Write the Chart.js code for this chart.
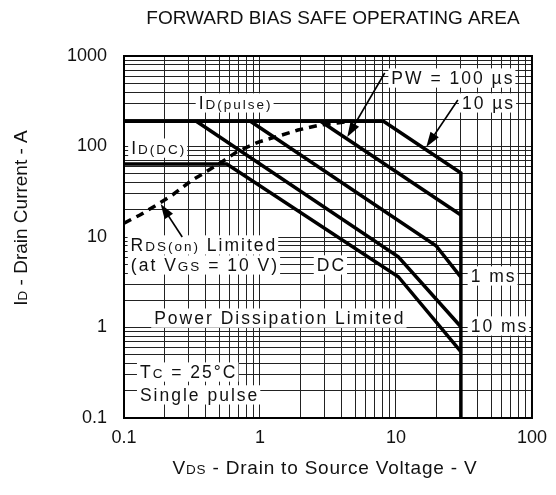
<!DOCTYPE html>
<html>
<head>
<meta charset="utf-8">
<script src="https://cdn.jsdelivr.net/npm/chart.js@4.4.1/dist/chart.umd.min.js"></script>
<style>
body { margin: 0; background: #fff; }
</style>
</head>
<body>
<canvas id="soa" width="556" height="495"></canvas>
<script>
// values (V, A)
const vds10us = [0.1, 8.1, 30, 30];
const id10us = [190, 190, 51, 0.1];
const vds100us = [2.79, 30];
const id100us = [190, 17.5];
const vds1ms = [0.85, 19.7, 30];
const id1ms = [190, 8.0, 3.6];
const vds10ms = [0.34, 10.4, 30];
const id10ms = [190, 6.05, 1.02];
const vdsDC = [0.1, 0.57, 10.4, 30];
const idDC = [64, 64, 3.64, 0.54];
const vdsRds = [0.1, 0.131, 0.182, 0.227, 0.317, 0.4, 0.524, 0.673, 0.973, 1.29, 1.9, 2.79, 3.7, 4.7];
const idRds = [14.2, 17.5, 23.6, 29.1, 42.6, 52.3, 67.5, 86.9, 112, 127, 152, 173, 182, 190];

const xTickLabels = ['0.1', '1', '10', '100'];
const yTickLabels = ['0.1', '1', '10', '100', '1000'];

const FONT = 'Arial, "Liberation Sans", sans-serif';
const INK = '#111';

function pts(xs, ys) {
	return xs.map((x, i) => ({ x: x, y: ys[i] }));
}

function curve(xs, ys, dash) {
	return {
		data: pts(xs, ys),
		borderColor: '#000',
		borderWidth: 3.5,
		borderDash: dash || [],
		borderJoinStyle: 'miter',
		pointRadius: 0,
		tension: 0,
		fill: false
	};
}

// 1..9 per decade, so every log grid line is drawn
function logTicks(labels) {
	return scale => {
		const dec = labels.map(Number);
		const list = [];
		for (let i = 0; i < dec.length - 1; i++) {
			for (let k = 1; k < 10; k++) list.push({ value: +(dec[i] * k).toPrecision(3) });
		}
		list.push({ value: dec[dec.length - 1] });
		scale.ticks = list;
	};
}

function tickText(labels) {
	return value => {
		const s = labels.find(l => Math.abs(Number(l) - value) < value * 1e-6);
		return s === undefined ? '' : s;
	};
}

// in-plot notes: [text, size] pieces, placed in data units
const notes = [
	{ parts: [['I', 17.5], ['D(pulse)', 13.5]], x: 0.662, y: 303, align: 'center' },
	{ parts: [['I', 17.5], ['D(DC)', 13.5]], x: 0.18, y: 96, align: 'center' },
	{ parts: [['PW = 100 µs', 17.5]], x: 26.2, y: 571, align: 'center' },
	{ parts: [['10 µs', 17.5]], x: 47.9, y: 303, align: 'center' },
	{ parts: [['R', 17.5], ['DS(on)', 13.5], [' Limited', 17.5]], x: 0.387, y: 8.17, align: 'center' },
	{ parts: [['(at V', 17.5], ['GS', 13.5], [' = 10 V)', 17.5]], x: 0.394, y: 4.91, align: 'center' },
	{ parts: [['DC', 17.5]], x: 3.35, y: 4.91, align: 'center' },
	{ parts: [['Power Dissipation Limited', 17.5]], x: 1.40, y: 1.27, align: 'center' },
	{ parts: [['T', 17.5], ['C', 13.5], [' = 25°C', 17.5]], x: 0.131, y: 0.322, align: 'left' },
	{ parts: [['Single pulse', 17.5]], x: 0.131, y: 0.18, align: 'left' },
	{ parts: [['1 ms', 17.5]], x: 35.4, y: 3.71, align: 'left' },
	{ parts: [['10 ms', 17.5]], x: 35.4, y: 1.04, align: 'left' }
];

const arrows = [
	{ from: [0.268, 10], to: [0.186, 23.2] },
	{ from: [8.26, 649], to: [4.38, 127] },
	{ from: [28.5, 326], to: [16.7, 98.7] }
];

function drawParts(ctx, parts, x, y, align, box, spacing) {
	ctx.letterSpacing = spacing;
	const widths = parts.map(p => {
		ctx.font = p[1] + 'px ' + FONT;
		return ctx.measureText(p[0]).width;
	});
	const total = widths.reduce((a, b) => a + b, 0);
	let start = align === 'left' ? x : x - total / 2;
	const size = parts[0][1];
	if (box) {
		ctx.fillStyle = '#fff';
		ctx.fillRect(start - 3, y - size * 0.55, total + 4, size * 1.1);
	}
	ctx.fillStyle = INK;
	ctx.textBaseline = 'alphabetic';
	ctx.textAlign = 'left';
	const base = y + size * 0.36;
	parts.forEach((p, i) => {
		ctx.font = p[1] + 'px ' + FONT;
		ctx.fillText(p[0], start, base);
		start += widths[i];
	});
	ctx.letterSpacing = '0px';
}

const overlay = {
	id: 'overlay',
	beforeDatasetsDraw(chart) {
		const ctx = chart.ctx;
		const sx = chart.scales.x, sy = chart.scales.y;
		ctx.save();
		notes.forEach(n => {
			drawParts(ctx, n.parts, sx.getPixelForValue(n.x), sy.getPixelForValue(n.y), n.align, true, '2px');
		});
		ctx.restore();
	},
	afterDatasetsDraw(chart) {
		const ctx = chart.ctx;
		const sx = chart.scales.x, sy = chart.scales.y;
		const a = chart.chartArea;
		ctx.save();
		ctx.strokeStyle = '#000';
		ctx.fillStyle = '#000';
		arrows.forEach(ar => {
			const x0 = sx.getPixelForValue(ar.from[0]), y0 = sy.getPixelForValue(ar.from[1]);
			const x1 = sx.getPixelForValue(ar.to[0]), y1 = sy.getPixelForValue(ar.to[1]);
			const ang = Math.atan2(y1 - y0, x1 - x0);
			const len = 15, half = 5;
			ctx.lineWidth = 1.6;
			ctx.beginPath();
			ctx.moveTo(x0, y0);
			ctx.lineTo(x1 - Math.cos(ang) * len * 0.8, y1 - Math.sin(ang) * len * 0.8);
			ctx.stroke();
			ctx.beginPath();
			ctx.moveTo(x1, y1);
			ctx.lineTo(x1 - Math.cos(ang) * len - Math.sin(ang) * half, y1 - Math.sin(ang) * len + Math.cos(ang) * half);
			ctx.lineTo(x1 - Math.cos(ang) * len + Math.sin(ang) * half, y1 - Math.sin(ang) * len - Math.cos(ang) * half);
			ctx.closePath();
			ctx.fill();
		});
		// frame
		ctx.lineWidth = 2;
		ctx.strokeRect(a.left, a.top, a.right - a.left, a.bottom - a.top);
		ctx.restore();
	},
	afterDraw(chart) {
		const ctx = chart.ctx;
		ctx.save();
		ctx.fillStyle = INK;
		ctx.font = '19px ' + FONT;
		ctx.textAlign = 'center';
		ctx.textBaseline = 'middle';
		ctx.fillText('FORWARD BIAS SAFE OPERATING AREA', 333, 19);
		drawParts(ctx, [['V', 19], ['DS', 13.5], [' - Drain to Source Voltage - V', 19]], 325, 467, 'center', false, '0.8px');
		ctx.translate(20, 218);
		ctx.rotate(-Math.PI / 2);
		drawParts(ctx, [['I', 19], ['D', 13.5], [' - Drain Current - A', 19]], 0, 0, 'center', false, '0px');
		ctx.restore();
	}
};

const gridStyle = { color: '#222', lineWidth: 1, drawTicks: false };

new Chart(document.getElementById('soa'), {
	type: 'line',
	data: {
		datasets: [
			curve(vds10us, id10us),
			curve(vds100us, id100us),
			curve(vds1ms, id1ms),
			curve(vds10ms, id10ms),
			curve(vdsDC, idDC),
			curve(vdsRds, idRds, [8, 6])
		]
	},
	options: {
		responsive: false,
		animation: false,
		devicePixelRatio: 1,
		layout: { padding: { top: 56, right: 19, bottom: 0, left: 0 } },
		plugins: { legend: { display: false }, tooltip: { enabled: false }, title: { display: false } },
		scales: {
			x: {
				type: 'logarithmic',
				min: 0.1,
				max: 100,
				grid: gridStyle,
				border: { display: true, color: '#000', width: 2 },
				afterBuildTicks: logTicks(xTickLabels),
				afterFit: s => { s.height = 77; },
				ticks: {
					autoSkip: false,
					maxRotation: 0,
					padding: 9,
					color: INK,
					font: { family: FONT, size: 18 },
					callback: tickText(xTickLabels)
				}
			},
			y: {
				type: 'logarithmic',
				min: 0.1,
				max: 1000,
				grid: gridStyle,
				border: { display: true, color: '#000', width: 2 },
				afterBuildTicks: logTicks(yTickLabels),
				afterFit: s => { s.width = 124; },
				ticks: {
					autoSkip: false,
					padding: 17,
					color: INK,
					font: { family: FONT, size: 18 },
					callback: tickText(yTickLabels)
				}
			}
		}
	},
	plugins: [overlay]
});
</script>
</body>
</html>
